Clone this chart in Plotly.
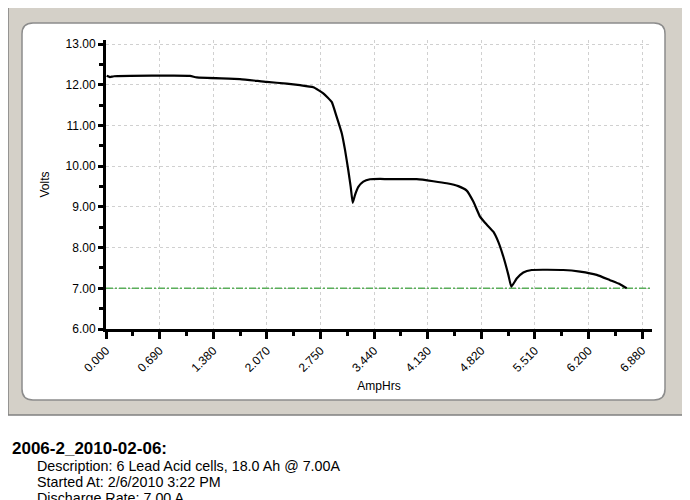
import plotly.graph_objects as go

# ---- data ----
amphrs = [0.009, 0.051, 0.103, 1.079, 1.165, 1.721, 2.064, 2.321, 2.492, 2.663,
          2.791, 2.899, 2.963, 3.028, 3.070, 3.112, 3.143, 3.169, 3.198, 3.241,
          3.305, 3.391, 3.520, 3.690, 3.991, 4.204, 4.376, 4.525, 4.633, 4.718,
          4.804, 4.868, 4.975, 5.039, 5.103, 5.168, 5.206, 5.275, 5.360, 5.468,
          5.874, 6.089, 6.303, 6.474, 6.602, 6.688]
volts = [12.22, 12.19, 12.21, 12.22, 12.18, 12.14, 12.07, 12.03, 11.99, 11.94,
         11.79, 11.58, 11.21, 10.81, 10.40, 9.90, 9.49, 9.10, 9.29, 9.49,
         9.62, 9.68, 9.69, 9.68, 9.68, 9.63, 9.58, 9.51, 9.40, 9.13,
         8.76, 8.61, 8.39, 8.14, 7.78, 7.33, 7.04, 7.24, 7.39, 7.45,
         7.45, 7.41, 7.33, 7.20, 7.10, 7.00]
cutoff_volts = 7.00
x_tickvals = [0.0, 0.6885, 1.377, 2.0655, 2.754, 3.4425, 4.131, 4.8195, 5.508, 6.1965, 6.885]
x_ticktext = ["0.000", "0.690", "1.380", "2.070", "2.750", "3.440", "4.130",
              "4.820", "5.510", "6.200", "6.880"]
y_tickvals = [6, 7, 8, 9, 10, 11, 12, 13]
y_ticktext = ["6.00", "7.00", "8.00", "9.00", "10.00", "11.00", "12.00", "13.00"]
x_max = 7.013
y_range = [6.0, 13.1]

header = "2006-2_2010-02-06:"
info_lines = ["Description: 6 Lead Acid cells, 18.0 Ah @ 7.00A",
              "Started At: 2/6/2010 3:22 PM",
              "Discharge Rate: 7.00 A"]

# page has an 8px body margin; figure is sized to fit the window exactly
OFF = 8
W, H = 690 - OFF, 500 - OFF
def px(x):
    return (x - OFF) / W
def py(y):
    return 1 - (y - OFF) / H

def rounded_path(x0, y0, x1, y1, r):
    pts = [
        ("M", [(x0 + r, y0)]),
        ("L", [(x1 - r, y0)]),
        ("Q", [(x1, y0), (x1, y0 + r)]),
        ("L", [(x1, y1 - r)]),
        ("Q", [(x1, y1), (x1 - r, y1)]),
        ("L", [(x0 + r, y1)]),
        ("Q", [(x0, y1), (x0, y1 - r)]),
        ("L", [(x0, y0 + r)]),
        ("Q", [(x0, y0), (x0 + r, y0)]),
    ]
    s = ""
    for cmd, ps in pts:
        s += cmd + " " + " ".join(f"{px(a):.5f},{py(b):.5f}" for a, b in ps) + " "
    return s + "Z"

fig = go.Figure()

fig.add_trace(go.Scatter(
    x=[0, x_max], y=[cutoff_volts, cutoff_volts], mode="lines",
    line=dict(color="#5aae5a", width=1.5, dash="7px,2px,2px,2px"),
    hoverinfo="skip", showlegend=False))
fig.add_trace(go.Scatter(
    x=[-0.085], y=[cutoff_volts], mode="markers",
    marker=dict(symbol="triangle-right", size=8, color="#22a022"),
    cliponaxis=False, hoverinfo="skip", showlegend=False))
fig.add_trace(go.Scatter(
    x=amphrs, y=volts, mode="lines",
    line=dict(color="black", width=2.2, shape="spline", smoothing=0.4),
    showlegend=False))

x_minor = [(a + b) / 2 for a, b in zip(x_tickvals[:-1], x_tickvals[1:])]

font = "Liberation Sans, Arial, sans-serif"
grid_col = "#d0d0d0"
grid_dash = "3px,3px"

fig.update_layout(
    width=W, height=H,
    margin=dict(l=0, r=0, t=0, b=0, autoexpand=False),
    paper_bgcolor="white",
    plot_bgcolor="rgba(0,0,0,0)",
    font=dict(family=font, size=12, color="black"),
    xaxis=dict(
        domain=[px(106), px(652)], range=[0, x_max], automargin=False,
        tickmode="array", tickvals=x_tickvals, ticktext=x_ticktext,
        tickangle=-45, ticks="outside", ticklen=7, tickwidth=2.5, tickcolor="black",
        showline=True, linecolor="black", linewidth=3,
        showgrid=True, gridcolor=grid_col, griddash=grid_dash, gridwidth=1,
        zeroline=False, tickfont=dict(size=12),
        minor=dict(tickmode="array", tickvals=x_minor, ticks="outside",
                   ticklen=4, tickwidth=2.5, tickcolor="black", showgrid=False),
        title=dict(text="AmpHrs", font=dict(size=12), standoff=8),
    ),
    yaxis=dict(
        domain=[py(329), py(40)], range=y_range, automargin=False,
        tickmode="array", tickvals=y_tickvals, ticktext=y_ticktext,
        ticks="outside", ticklen=5, tickwidth=2.5, tickcolor="black",
        showline=True, linecolor="black", linewidth=3,
        showgrid=True, gridcolor=grid_col, griddash=grid_dash, gridwidth=1,
        zeroline=False, tickfont=dict(size=12),
        minor=dict(dtick=0.5, tick0=6, ticks="outside",
                   ticklen=4, tickwidth=2.5, tickcolor="black", showgrid=False),
        title=dict(text="Volts", font=dict(size=12), standoff=14),
    ),
    shapes=[
        dict(type="rect", xref="paper", yref="paper", layer="below",
             x0=px(8), x1=px(684), y0=py(415), y1=py(-10),
             fillcolor="#d4d0c8", line=dict(color="#808080", width=1.5)),
        dict(type="path", xref="paper", yref="paper", layer="below",
             path=rounded_path(22, 23, 665, 400, 11),
             fillcolor="white", line=dict(color="#8c8c8c", width=1.5)),
    ],
    annotations=[
        dict(text="<b>" + header + "</b>", xref="paper", yref="paper",
             x=px(10), y=py(448), xanchor="left", yanchor="middle",
             showarrow=False, font=dict(size=17, family=font, color="black")),
    ] + [
        dict(text=t, xref="paper", yref="paper",
             x=px(35), y=py(yy), xanchor="left", yanchor="middle",
             showarrow=False, font=dict(size=14.3, family=font, color="black"))
        for t, yy in zip(info_lines, [466, 482, 498])
    ],
)

fig.write_html("out.html")
